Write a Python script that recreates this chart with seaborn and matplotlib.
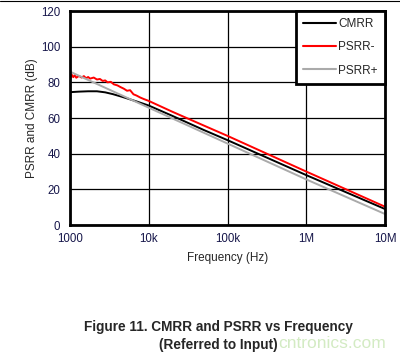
import numpy as np
import pandas as pd
import matplotlib.pyplot as plt
import seaborn as sns
from matplotlib.lines import Line2D

# --- data ---
freq_cmrr = [1000, 1300, 1700, 2200, 2800, 3500, 4500, 5500, 7000, 10000,
             20000, 50000, 100000, 1000000, 10000000]
cmrr = [74.5, 74.8, 75.0, 75.0, 74.4, 73.4, 72.0, 70.8, 69.3, 67.0,
        61.2, 53.3, 47.6, 28.0, 9.0]

freq_psrr_m = [1000, 1050, 1100, 1150, 1200, 1300, 1400, 1500, 1600, 1700,
               1800, 2000, 2200, 2400, 2600, 2800, 3000, 3300, 3600, 4000,
               4400, 4800, 5300, 5800, 6400, 7000, 7800, 8600, 10000,
               20000, 50000, 100000, 1000000, 10000000]
psrr_m = [82.0, 84.3, 82.9, 84.0, 82.6, 83.6, 82.7, 83.5, 82.3, 83.0,
          82.1, 82.7, 81.6, 81.9, 80.8, 81.1, 80.0, 80.3, 78.9, 78.3,
          77.3, 76.5, 75.3, 75.6, 73.3, 72.6, 71.5, 70.7, 69.6,
          63.5, 55.8, 50.0, 30.0, 10.3]

freq_psrr_p = [1000, 10000, 100000, 1000000, 10000000]
psrr_p = [86.0, 65.8, 45.7, 25.6, 6.2]

x_ticks = [1e3, 1e4, 1e5, 1e6, 1e7]
x_labels = ["1000", "10k", "100k", "1M", "10M"]
y_ticks = [0, 20, 40, 60, 80, 100, 120]

df = pd.concat([
    pd.DataFrame({"f": freq_cmrr, "dB": cmrr, "s": "CMRR"}),
    pd.DataFrame({"f": freq_psrr_m, "dB": psrr_m, "s": "PSRR-"}),
    pd.DataFrame({"f": freq_psrr_p, "dB": psrr_p, "s": "PSRR+"}),
])

sns.set_style("white")
plt.rcParams['font.family'] = ['Liberation Sans', 'DejaVu Sans']

fig = plt.figure(figsize=(4, 3.55), dpi=100)
ax = fig.add_axes([0.175, 0.366, 0.7875, 0.603])

sns.lineplot(data=df, x="f", y="dB", hue="s", ax=ax,
             palette={"CMRR": "black", "PSRR-": "#ff0000", "PSRR+": "#aaaaaa"},
             linewidth=1.4, estimator=None, sort=False)
ax.set_xscale("log")
ax.set_xlim(1e3, 1e7)
ax.set_ylim(0, 120)
ax.set_xticks(x_ticks)
ax.set_xticklabels(x_labels)
ax.minorticks_off()
ax.set_yticks(y_ticks)
ax.tick_params(length=0, labelsize=8.3, colors="#16164a")
ax.tick_params(axis="x", pad=6)
ax.tick_params(axis="y", pad=7)
ax.grid(True, color="black", linewidth=0.9)
for sp in ax.spines.values():
    sp.set_linewidth(2)
    sp.set_color("black")

ax.set_xlabel("Frequency (Hz)", fontsize=8.5, labelpad=5)
ax.set_ylabel("PSRR and CMRR (dB)", fontsize=8.5, labelpad=2)

leg = ax.legend(loc="upper right", borderaxespad=0, fontsize=8.5,
                handlelength=2.8, fancybox=False, framealpha=1,
                labelspacing=0.95, borderpad=0.6, handletextpad=0.2)
leg.get_frame().set_edgecolor("black")
leg.get_frame().set_linewidth(2)
for h in leg.get_lines():
    h.set_linewidth(1.5)

fig.add_artist(Line2D([0, 1], [0.997, 0.997], color="black", linewidth=0.8))
fig.text(0.545, 0.067, "Figure 11. CMRR and PSRR vs Frequency", ha="center",
         fontsize=9.8, fontweight="bold")
fig.text(0.545, 0.016, "(Referred to Input)", ha="center",
         fontsize=9.8, fontweight="bold")
fig.text(0.83, 0.02, "cntronics.com", ha="center", fontsize=12.5,
         color="#c8e6b4", alpha=0.8)

fig.savefig("out.png", dpi=100)
